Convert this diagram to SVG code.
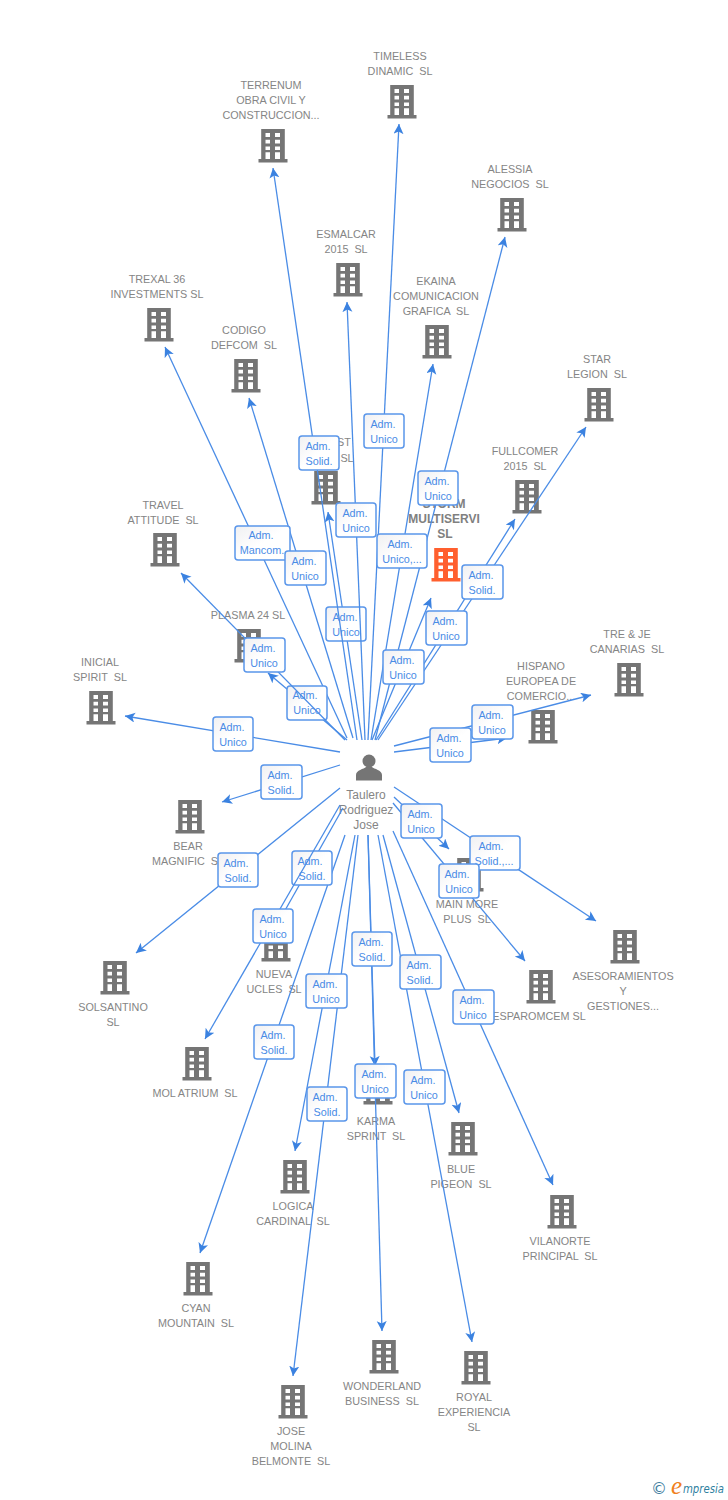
<svg xmlns="http://www.w3.org/2000/svg" width="728" height="1500" viewBox="0 0 728 1500">
<style>
text{font-family:"Liberation Sans",Arial,sans-serif}
.n{font-size:10.800px;fill:#858585;text-anchor:middle;white-space:pre}
.b{font-size:12px;font-weight:bold;fill:#808080;text-anchor:middle}
.p{font-size:12px;fill:#858585;text-anchor:middle}
.l{font-size:10.800px;fill:#4a8ce6;text-anchor:middle}
.e{stroke:#4a8ce6;stroke-width:1.3;fill:none;marker-end:url(#a)}
.r{fill:url(#g);stroke:#5a96ea;stroke-width:1.5}
</style>
<defs>
<linearGradient id="g" x1="0" y1="0" x2="1" y2="1"><stop offset="0" stop-color="#f0f0f2"/><stop offset="0.5" stop-color="#fff"/></linearGradient>
<marker id="a" markerUnits="userSpaceOnUse" markerWidth="12" markerHeight="12" refX="10" refY="5" orient="auto"><path d="M0 0L10 5L0 10L2.500 5Z" fill="#3b82e0"/></marker>
<symbol id="bd" overflow="visible"><path fill-rule="evenodd" d="M-11.800-17H11.800V13H14.500V16.500H-14.500V13H-11.800ZM-7.500-13V-9H-3V-13ZM2-13V-9H7V-13ZM-7.500-6.300V-2.500H-3V-6.300ZM2-6.300V-2.500H7V-6.300ZM-7.500 0.500V4H-3V0.500ZM2 0.500V4H7V0.500ZM-7.500 6.300V13H-3V6.300ZM2 6.300V13H7V6.300Z"/></symbol>
</defs>
<g id="nodes" fill="#757575">
<g id="n1"><use href="#bd" x="402" y="102"/><text class="n" x="400" y="60">TIMELESS</text><text class="n" x="400" y="75">DINAMIC  SL</text></g>
<g id="n2"><use href="#bd" x="273" y="146"/><text class="n" x="271" y="89">TERRENUM</text><text class="n" x="271" y="104">OBRA CIVIL Y</text><text class="n" x="271" y="119">CONSTRUCCION...</text></g>
<g id="n3"><use href="#bd" x="512" y="215"/><text class="n" x="510" y="173">ALESSIA</text><text class="n" x="510" y="188">NEGOCIOS  SL</text></g>
<g id="n4"><use href="#bd" x="348" y="280"/><text class="n" x="346" y="238">ESMALCAR</text><text class="n" x="346" y="253">2015  SL</text></g>
<g id="n5"><use href="#bd" x="437" y="342"/><text class="n" x="436" y="285">EKAINA</text><text class="n" x="436" y="300">COMUNICACION</text><text class="n" x="436" y="315">GRAFICA  SL</text></g>
<g id="n6"><use href="#bd" x="159" y="325"/><text class="n" x="157" y="283">TREXAL 36</text><text class="n" x="157" y="298">INVESTMENTS SL</text></g>
<g id="n7"><use href="#bd" x="246" y="376"/><text class="n" x="244" y="334">CODIGO</text><text class="n" x="244" y="349">DEFCOM  SL</text></g>
<g id="n8"><use href="#bd" x="599" y="405"/><text class="n" x="597" y="363">STAR</text><text class="n" x="597" y="378">LEGION  SL</text></g>
<g id="n9"><use href="#bd" x="527" y="497"/><text class="n" x="525" y="455">FULLCOMER</text><text class="n" x="525" y="470">2015  SL</text></g>
<g id="n10"><use href="#bd" x="326" y="488"/><text class="n" x="344" y="446">ST</text><text class="n" x="347" y="462">SL</text></g>
<g id="n11"><use href="#bd" x="446" y="565" fill="#ff5f2e"/><text class="b" x="444" y="508">STORM</text><text class="b" x="444" y="523">MULTISERVI</text><text class="b" x="445" y="538">SL</text></g>
<g id="n12"><use href="#bd" x="165" y="550"/><text class="n" x="163" y="509">TRAVEL</text><text class="n" x="163" y="524">ATTITUDE  SL</text></g>
<g id="n13"><use href="#bd" x="249" y="646"/><text class="n" x="248" y="619">PLASMA 24 SL</text></g>
<g id="n14"><use href="#bd" x="101" y="708"/><text class="n" x="100" y="666">INICIAL</text><text class="n" x="100" y="681">SPIRIT  SL</text></g>
<g id="n15"><use href="#bd" x="629" y="680"/><text class="n" x="627" y="638">TRE &amp; JE</text><text class="n" x="627" y="653">CANARIAS  SL</text></g>
<g id="n16"><use href="#bd" x="543" y="727"/><text class="n" x="541" y="670">HISPANO</text><text class="n" x="541" y="685">EUROPEA DE</text><text class="n" x="541" y="700">COMERCIO...</text></g>
<g id="n17"><use href="#bd" x="190" y="817"/><text class="n" x="188" y="850">BEAR</text><text class="n" x="188" y="865">MAGNIFIC  SL</text></g>
<g id="n18"><use href="#bd" x="115" y="978"/><text class="n" x="113" y="1011">SOLSANTINO</text><text class="n" x="113" y="1026">SL</text></g>
<g id="n19"><use href="#bd" x="197" y="1064"/><text class="n" x="195" y="1097">MOL ATRIUM  SL</text></g>
<g id="n20"><use href="#bd" x="276" y="945"/><text class="n" x="274" y="978">NUEVA</text><text class="n" x="274" y="993">UCLES  SL</text></g>
<g id="n21"><use href="#bd" x="469" y="875"/><text class="n" x="467" y="908">MAIN MORE</text><text class="n" x="467" y="923">PLUS  SL</text></g>
<g id="n22"><use href="#bd" x="625" y="947"/><text class="n" x="623" y="980">ASESORAMIENTOS</text><text class="n" x="623" y="995">Y</text><text class="n" x="623" y="1010">GESTIONES...</text></g>
<g id="n23"><use href="#bd" x="541" y="987"/><text class="n" x="539" y="1020">ESPAROMCEM SL</text></g>
<g id="n24"><use href="#bd" x="378" y="1088"/><text class="n" x="376" y="1125">KARMA</text><text class="n" x="376" y="1140">SPRINT  SL</text></g>
<g id="n25"><use href="#bd" x="463" y="1139"/><text class="n" x="461" y="1173">BLUE</text><text class="n" x="461" y="1188">PIGEON  SL</text></g>
<g id="n26"><use href="#bd" x="295" y="1177"/><text class="n" x="293" y="1210">LOGICA</text><text class="n" x="293" y="1225">CARDINAL  SL</text></g>
<g id="n27"><use href="#bd" x="562" y="1212"/><text class="n" x="560" y="1245">VILANORTE</text><text class="n" x="560" y="1260">PRINCIPAL  SL</text></g>
<g id="n28"><use href="#bd" x="198" y="1279"/><text class="n" x="196" y="1312">CYAN</text><text class="n" x="196" y="1327">MOUNTAIN  SL</text></g>
<g id="n29"><use href="#bd" x="384" y="1357"/><text class="n" x="382" y="1390">WONDERLAND</text><text class="n" x="382" y="1405">BUSINESS  SL</text></g>
<g id="n30"><use href="#bd" x="476" y="1368"/><text class="n" x="474" y="1401">ROYAL</text><text class="n" x="474" y="1416">EXPERIENCIA</text><text class="n" x="474" y="1431">SL</text></g>
<g id="n31"><use href="#bd" x="293" y="1402"/><text class="n" x="291" y="1435">JOSE</text><text class="n" x="291" y="1450">MOLINA</text><text class="n" x="291" y="1465">BELMONTE  SL</text></g>
<g id="center"><circle cx="369" cy="761" r="6.500"/><path d="M356 780.500V775C356 770 364 769 366 767H372C374 769 382 770 382 775V780.500Z"/><text class="p" x="366" y="799">Taulero</text><text class="p" x="366" y="814">Rodriguez</text><text class="p" x="366" y="829">Jose</text></g>
</g>
<g id="connectors">
<path class="e" d="M362 740L328 512"/>
<path class="e" d="M368 740L399 124"/>
<path class="e" d="M375 740L505 237"/>
<path class="e" d="M371 740L433 364"/>
<path class="e" d="M347 738L165 347"/>
<path class="e" d="M353 738L249 398"/>
<path class="e" d="M378 740L586 427"/>
<path class="e" d="M376 740L515 519"/>
<path class="e" d="M372 740L431 598"/>
<path class="e" d="M347 740L268 673"/>
<path class="e" d="M340 752L125 716"/>
<path class="e" d="M394 752L507 738"/>
<path class="e" d="M394 746L591 695"/>
<path class="e" d="M340 765L222 802"/>
<path class="e" d="M340 788L136 953"/>
<path class="e" d="M343 808L275 928"/>
<path class="e" d="M345 835L200 1253"/>
<path class="e" d="M355 835L295 1151"/>
<path class="e" d="M358 835L293 1376"/>
<path class="e" d="M368 835L375 1066"/>
<path class="e" d="M368 835L382 1331"/>
<path class="e" d="M378 835L472 1342"/>
<path class="e" d="M383 835L459 1113"/>
<path class="e" d="M393 831L553 1185"/>
<path class="e" d="M394 797L449 849"/>
<path class="e" d="M394 787L596 921"/>
<path class="e" d="M393 803L525 961"/>
<rect class="r" x="326" y="607" width="40" height="34" rx="3"/><text class="l" x="345" y="621">Adm.</text><text class="l" x="346" y="636">Unico</text>
<rect class="r" x="287" y="686" width="40" height="34" rx="3"/><text class="l" x="305" y="699">Adm.</text><text class="l" x="307" y="714">Unico</text>
<rect class="r" x="292" y="851" width="40" height="34" rx="3"/><text class="l" x="310" y="865">Adm.</text><text class="l" x="312" y="880">Solid.</text>
<path class="e" d="M357 740L273 168"/>
<path class="e" d="M365 740L347 302"/>
<path class="e" d="M345 740L181 573"/>
<path class="e" d="M340 805L205 1039"/>
<rect class="r" x="299" y="436" width="40" height="34" rx="3"/><text class="l" x="318" y="450">Adm.</text><text class="l" x="319" y="465">Solid.</text>
<rect class="r" x="364" y="414" width="40" height="34" rx="3"/><text class="l" x="383" y="428">Adm.</text><text class="l" x="384" y="443">Unico</text>
<rect class="r" x="418" y="471" width="40" height="34" rx="3"/><text class="l" x="437" y="485">Adm.</text><text class="l" x="438" y="500">Unico</text>
<rect class="r" x="336" y="503" width="40" height="34" rx="3"/><text class="l" x="355" y="517">Adm.</text><text class="l" x="356" y="532">Unico</text>
<rect class="r" x="377" y="534" width="50" height="34" rx="3"/><text class="l" x="400" y="548">Adm.</text><text class="l" x="402" y="563">Unico,...</text>
<rect class="r" x="235" y="526" width="55" height="34" rx="3"/><text class="l" x="261" y="539">Adm.</text><text class="l" x="262" y="554">Mancom.</text>
<rect class="r" x="285" y="551" width="41" height="34" rx="3"/><text class="l" x="304" y="565">Adm.</text><text class="l" x="305" y="580">Unico</text>
<rect class="r" x="462" y="565" width="41" height="34" rx="3"/><text class="l" x="481" y="579">Adm.</text><text class="l" x="482" y="594">Solid.</text>
<rect class="r" x="426" y="611" width="41" height="34" rx="3"/><text class="l" x="445" y="625">Adm.</text><text class="l" x="446" y="640">Unico</text>
<rect class="r" x="383" y="650" width="41" height="34" rx="3"/><text class="l" x="402" y="664">Adm.</text><text class="l" x="403" y="679">Unico</text>
<rect class="r" x="244" y="638" width="41" height="34" rx="3"/><text class="l" x="263" y="652">Adm.</text><text class="l" x="264" y="667">Unico</text>
<rect class="r" x="213" y="717" width="40" height="34" rx="3"/><text class="l" x="232" y="731">Adm.</text><text class="l" x="233" y="746">Unico</text>
<rect class="r" x="430" y="728" width="41" height="34" rx="3"/><text class="l" x="449" y="742">Adm.</text><text class="l" x="450" y="757">Unico</text>
<rect class="r" x="472" y="705" width="41" height="34" rx="3"/><text class="l" x="491" y="719">Adm.</text><text class="l" x="492" y="734">Unico</text>
<rect class="r" x="261" y="765" width="41" height="34" rx="3"/><text class="l" x="280" y="779">Adm.</text><text class="l" x="281" y="794">Solid.</text>
<rect class="r" x="218" y="853" width="40" height="34" rx="3"/><text class="l" x="236" y="867">Adm.</text><text class="l" x="238" y="882">Solid.</text>
<rect class="r" x="253" y="909" width="40" height="34" rx="3"/><text class="l" x="272" y="923">Adm.</text><text class="l" x="273" y="938">Unico</text>
<rect class="r" x="254" y="1025" width="40" height="34" rx="3"/><text class="l" x="273" y="1039">Adm.</text><text class="l" x="274" y="1054">Solid.</text>
<rect class="r" x="306" y="974" width="41" height="34" rx="3"/><text class="l" x="325" y="988">Adm.</text><text class="l" x="326" y="1003">Unico</text>
<rect class="r" x="307" y="1087" width="40" height="34" rx="3"/><text class="l" x="325" y="1101">Adm.</text><text class="l" x="327" y="1116">Solid.</text>
<rect class="r" x="352" y="932" width="40" height="34" rx="3"/><text class="l" x="371" y="946">Adm.</text><text class="l" x="372" y="961">Solid.</text>
<rect class="r" x="355" y="1064" width="41" height="34" rx="3"/><text class="l" x="374" y="1078">Adm.</text><text class="l" x="375" y="1093">Unico</text>
<rect class="r" x="404" y="1070" width="41" height="34" rx="3"/><text class="l" x="423" y="1084">Adm.</text><text class="l" x="424" y="1099">Unico</text>
<rect class="r" x="400" y="955" width="41" height="34" rx="3"/><text class="l" x="419" y="969">Adm.</text><text class="l" x="420" y="984">Solid.</text>
<rect class="r" x="453" y="990" width="41" height="34" rx="3"/><text class="l" x="472" y="1004">Adm.</text><text class="l" x="473" y="1019">Unico</text>
<rect class="r" x="401" y="804" width="41" height="34" rx="3"/><text class="l" x="420" y="818">Adm.</text><text class="l" x="421" y="833">Unico</text>
<rect class="r" x="470" y="836" width="50" height="34" rx="3"/><text class="l" x="491" y="850">Adm.</text><text class="l" x="494" y="865">Solid.,...</text>
<rect class="r" x="439" y="864" width="40" height="34" rx="3"/><text class="l" x="457" y="878">Adm.</text><text class="l" x="459" y="893">Unico</text>
</g>
<g id="logo">
<text x="651" y="1494" font-size="16" fill="#3f7f9f" style="font-family:'DejaVu Sans',sans-serif">©</text>
<text x="671" y="1494" font-size="25" font-style="italic" fill="#f08020" style="font-family:'Liberation Serif',serif">e</text>
<text x="683" y="1493" font-size="12" font-style="italic" fill="#2f7f9f" style="font-family:'DejaVu Sans',sans-serif" textLength="41" lengthAdjust="spacingAndGlyphs">mpresia</text>
</g>
</svg>
